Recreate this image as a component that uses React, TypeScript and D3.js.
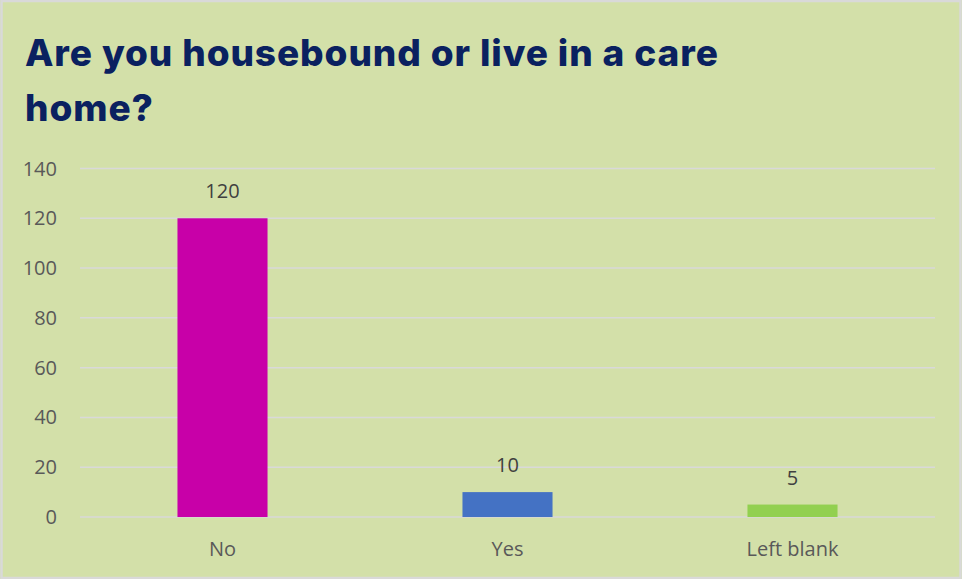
import React from "react";
import * as d3 from "d3";

const categories = ["No", "Yes", "Left blank"];
const values = [120, 10, 5];
const barColors = ["#c800a8", "#4472c4", "#92d050"];
const yTicks = [0, 20, 40, 60, 80, 100, 120, 140];
const titleLines = ["Are you housebound or live in a care", "home?"];

const W = 962;
const H = 579;
const plotLeft = 80;
const plotRight = 935;
const plotTop = 168.5;
const plotBottom = 517;

export default function App() {
  const x = d3
    .scaleBand<string>()
    .domain(categories)
    .range([plotLeft, plotRight])
    .paddingInner(0.684)
    .paddingOuter(0.342);
  const y = d3.scaleLinear().domain([0, 140]).range([plotBottom, plotTop]);
  const font = "'Open Sans', 'Liberation Sans', sans-serif";

  return (
    <div style={{ position: "fixed", left: 0, top: 0 }}>
      <svg width={W} height={H} style={{ display: "block" }}>
        <rect x={0} y={0} width={W} height={H} fill="#d3e0a9" />
        <rect x={1.5} y={1} width={W - 3} height={H - 2} fill="none" stroke="#d9d9d9" strokeWidth={2.5} />
        {titleLines.map((t, i) => (
          <text
            key={i}
            x={25}
            y={66 + i * 55}
            fill="#0a2160"
            fontFamily="Inter, 'Noto Sans', sans-serif"
            fontWeight={800}
            fontSize={37}
            letterSpacing={0.9}
          >
            {t}
          </text>
        ))}
        {yTicks.map((t) => (
          <g key={t}>
            <line x1={plotLeft} x2={plotRight} y1={y(t)} y2={y(t)} stroke="#d9d9d9" strokeWidth={1.5} />
            <text
              x={57}
              y={y(t) + 7}
              textAnchor="end"
              fill="#595959"
              fontFamily={font}
              fontSize={20}
            >
              {t}
            </text>
          </g>
        ))}
        {categories.map((c, i) => {
          const bx = x(c)!;
          const bw = x.bandwidth();
          return (
            <g key={c}>
              <rect x={bx} y={y(values[i])} width={bw} height={y(0) - y(values[i])} fill={barColors[i]} />
              <text
                x={bx + bw / 2}
                y={y(values[i]) - 20}
                textAnchor="middle"
                fill="#404040"
                fontFamily={font}
                fontSize={20}
              >
                {values[i]}
              </text>
              <text
                x={bx + bw / 2}
                y={556}
                textAnchor="middle"
                fill="#595959"
                fontFamily={font}
                fontSize={20}
              >
                {c}
              </text>
            </g>
          );
        })}
      </svg>
    </div>
  );
}
